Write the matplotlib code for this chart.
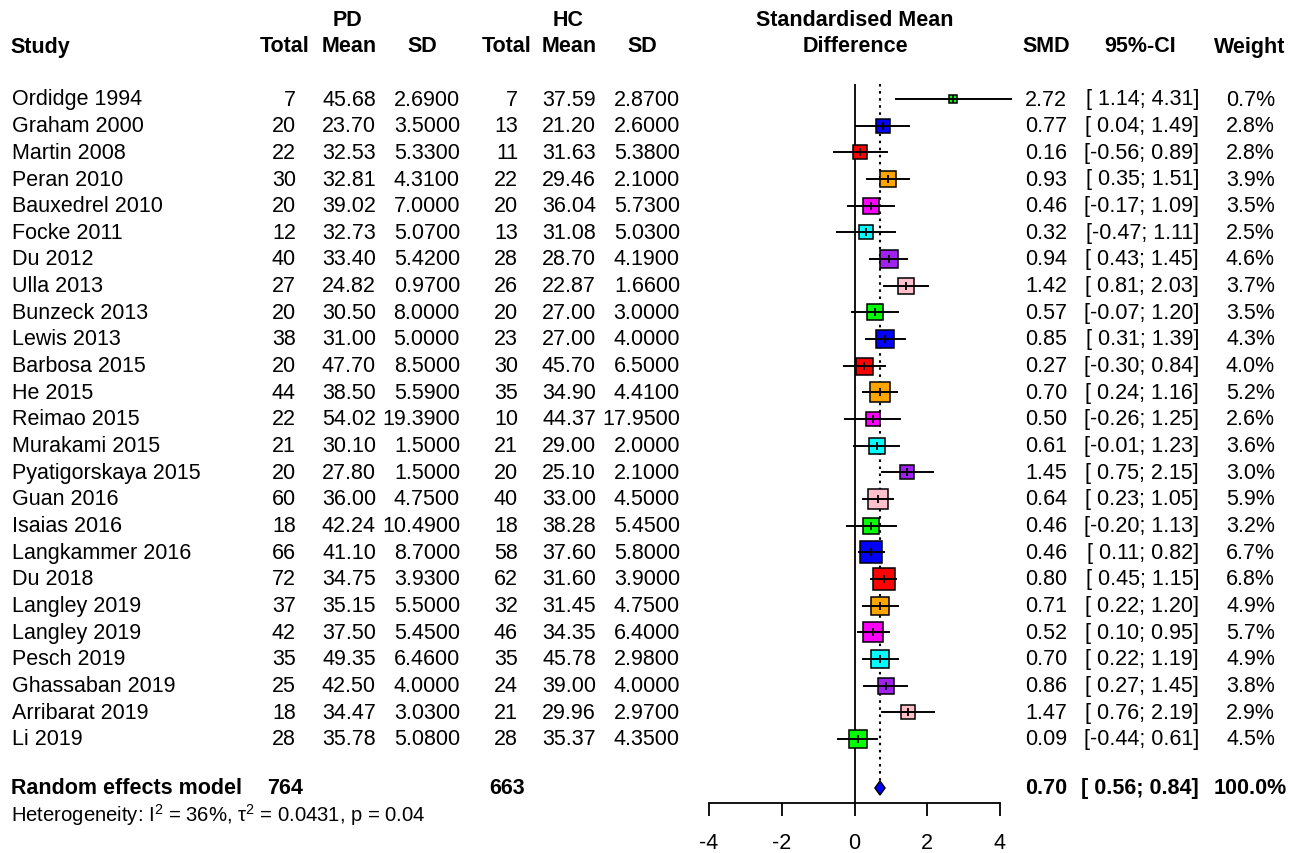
import matplotlib.pyplot as plt
import numpy as np

plt.rcParams['font.family'] = ['Liberation Sans', 'DejaVu Sans']
plt.rcParams['mathtext.fontset'] = 'custom'
plt.rcParams['mathtext.rm'] = 'Liberation Sans'
plt.rcParams['mathtext.it'] = 'Liberation Sans:italic'
plt.rcParams['axes.unicode_minus'] = False

# data
studies = ["Ordidge 1994", "Graham 2000", "Martin 2008", "Peran 2010", "Bauxedrel 2010",
           "Focke 2011", "Du 2012", "Ulla 2013", "Bunzeck 2013", "Lewis 2013",
           "Barbosa 2015", "He 2015", "Reimao 2015", "Murakami 2015", "Pyatigorskaya 2015",
           "Guan 2016", "Isaias 2016", "Langkammer 2016", "Du 2018", "Langley 2019",
           "Langley 2019", "Pesch 2019", "Ghassaban 2019", "Arribarat 2019", "Li 2019"]
pd_n = [7, 20, 22, 30, 20, 12, 40, 27, 20, 38, 20, 44, 22, 21, 20, 60, 18, 66, 72, 37, 42, 35, 25, 18, 28]
pd_mean = [45.68, 23.70, 32.53, 32.81, 39.02, 32.73, 33.40, 24.82, 30.50, 31.00, 47.70, 38.50, 54.02,
           30.10, 27.80, 36.00, 42.24, 41.10, 34.75, 35.15, 37.50, 49.35, 42.50, 34.47, 35.78]
pd_sd = [2.69, 3.5, 5.33, 4.31, 7.0, 5.07, 5.42, 0.97, 8.0, 5.0, 8.5, 5.59, 19.39,
         1.5, 1.5, 4.75, 10.49, 8.7, 3.93, 5.5, 5.45, 6.46, 4.0, 3.03, 5.08]
hc_n = [7, 13, 11, 22, 20, 13, 28, 26, 20, 23, 30, 35, 10, 21, 20, 40, 18, 58, 62, 32, 46, 35, 24, 21, 28]
hc_mean = [37.59, 21.20, 31.63, 29.46, 36.04, 31.08, 28.70, 22.87, 27.00, 27.00, 45.70, 34.90, 44.37,
           29.00, 25.10, 33.00, 38.28, 37.60, 31.60, 31.45, 34.35, 45.78, 39.00, 29.96, 35.37]
hc_sd = [2.87, 2.6, 5.38, 2.1, 5.73, 5.03, 4.19, 1.66, 3.0, 4.0, 6.5, 4.41, 17.95,
         2.0, 2.1, 4.5, 5.45, 5.8, 3.9, 4.75, 6.4, 2.98, 4.0, 2.97, 4.35]
smd = [2.72, 0.77, 0.16, 0.93, 0.46, 0.32, 0.94, 1.42, 0.57, 0.85, 0.27, 0.70, 0.50,
       0.61, 1.45, 0.64, 0.46, 0.46, 0.80, 0.71, 0.52, 0.70, 0.86, 1.47, 0.09]
lower = [1.14, 0.04, -0.56, 0.35, -0.17, -0.47, 0.43, 0.81, -0.07, 0.31, -0.30, 0.24, -0.26,
         -0.01, 0.75, 0.23, -0.20, 0.11, 0.45, 0.22, 0.10, 0.22, 0.27, 0.76, -0.44]
upper = [4.31, 1.49, 0.89, 1.51, 1.09, 1.11, 1.45, 2.03, 1.20, 1.39, 0.84, 1.16, 1.25,
         1.23, 2.15, 1.05, 1.13, 0.82, 1.15, 1.20, 0.95, 1.19, 1.45, 2.19, 0.61]
weight = [0.7, 2.8, 2.8, 3.9, 3.5, 2.5, 4.6, 3.7, 3.5, 4.3, 4.0, 5.2, 2.6,
          3.6, 3.0, 5.9, 3.2, 6.7, 6.8, 4.9, 5.7, 4.9, 3.8, 2.9, 4.5]
re_smd, re_lo, re_hi = 0.70, 0.56, 0.84
heterogeneity = "Heterogeneity: I$^2$ = 36%, τ$^2$ = 0.0431, p = 0.04"
palette = ["#00FF00", "#0000FF", "#FF0000", "#FFA500", "#FF00FF", "#00FFFF", "#A020F0", "#FFC0CB"]

W, H = 1300, 854
fig = plt.figure(figsize=(W / 100, H / 100), dpi=100)

# text layer in pixel coords
tx = fig.add_axes([0, 0, 1, 1])
tx.set_xlim(0, W)
tx.set_ylim(H, 0)
tx.axis('off')

fs = 15.5
row_y = lambda i: 100 + i * (740 - 100) / 24
y_re = 789

# column right edges and centres (pixels)
cols_x = [296, 376, 460, 518, 596, 680]
cols_c = [285, 349, 422, 507, 569, 642]

hdr = dict(fontsize=fs, fontweight='bold', va='center')
tx.text(10, 47, "Study", ha='left', **hdr)
tx.text(348, 21, "PD", ha='center', **hdr)
tx.text(568, 21, "HC", ha='center', **hdr)
for x, lab in zip(cols_c, ["Total", "Mean", "SD", "Total", "Mean", "SD"]):
    tx.text(x, 47, lab, ha='center', **hdr)
tx.text(855, 21, "Standardised Mean", ha='center', **hdr)
tx.text(855, 47, "Difference", ha='center', **hdr)
tx.text(1046, 47, "SMD", ha='center', **hdr)
tx.text(1140, 47, "95%-CI", ha='center', **hdr)
tx.text(1250, 47, "Weight", ha='center', **hdr)

# study rows
for i, s in enumerate(studies):
    y = row_y(i)
    tx.text(12, y, s, ha='left', va='center', fontsize=fs)
    vals = ["%d" % pd_n[i], "%.2f" % pd_mean[i], "%.4f" % pd_sd[i],
            "%d" % hc_n[i], "%.2f" % hc_mean[i], "%.4f" % hc_sd[i]]
    for x, v in zip(cols_x, vals):
        tx.text(x, y, v, ha='right', va='center', fontsize=fs)
    tx.text(1067, y, "%.2f" % smd[i], ha='right', va='center', fontsize=fs)
    tx.text(1199, y, "[%5.2f; %.2f]" % (lower[i], upper[i]), ha='right', va='center', fontsize=fs)
    tx.text(1275, y, "%.1f%%" % weight[i], ha='right', va='center', fontsize=fs)

# pooled row
tx.text(11, y_re, "Random effects model", ha='left', **hdr)
tx.text(cols_c[0], y_re, "%d" % sum(pd_n), ha='center', **hdr)
tx.text(cols_c[3], y_re, "%d" % sum(hc_n), ha='center', **hdr)
tx.text(1046, y_re, "%.2f" % re_smd, ha='center', **hdr)
tx.text(1140, y_re, "[%5.2f; %.2f]" % (re_lo, re_hi), ha='center', **hdr)
tx.text(1250, y_re, "100.0%", ha='center', **hdr)
tx.text(11, 815, heterogeneity, ha='left', va='center', fontsize=14.6)

# forest axes: x from -4..4 at 709..1000 px, y from 85..804 px
top_px, bot_px = 85, 804
ax = fig.add_axes([709 / W, (H - bot_px) / H, (1000 - 709) / W, (bot_px - top_px) / H])
ax.patch.set_alpha(0)
ax.set_xlim(-4, 4)
ax.set_ylim(bot_px, top_px)
for sp in ['left', 'top', 'right']:
    ax.spines[sp].set_visible(False)
ax.spines['bottom'].set_linewidth(1.3)
ax.set_yticks([])
ax.set_xticks([-4, -2, 0, 2, 4])
ax.tick_params(axis='x', length=9, width=1.3, labelsize=fs, pad=12)

ax.axvline(0, color='black', lw=1.3)
ax.vlines(re_smd, top_px, y_re - 7, colors='black', linestyles=(0, (1.2, 2.2)), lw=1.5)

for i in range(len(studies)):
    y = row_y(i)
    side = 8.5 * np.sqrt(weight[i]) * 0.72
    ax.plot(smd[i], y, marker='s', ms=side, mfc=palette[i % 8], mec='black', mew=1.1,
            clip_on=False, zorder=3)
    ax.plot([lower[i], upper[i]], [y, y], color='black', lw=1.4, clip_on=False, zorder=4)
    ax.plot(smd[i], y, marker='|', ms=6, color='black', mew=1.3, clip_on=False, zorder=5)

# diamond
ax.fill([re_lo, re_smd, re_hi, re_smd], [y_re, y_re - 7, y_re, y_re + 7],
        facecolor='#0000FF', edgecolor='black', lw=1, clip_on=False, zorder=4)

fig.savefig("out.png", dpi=100)
